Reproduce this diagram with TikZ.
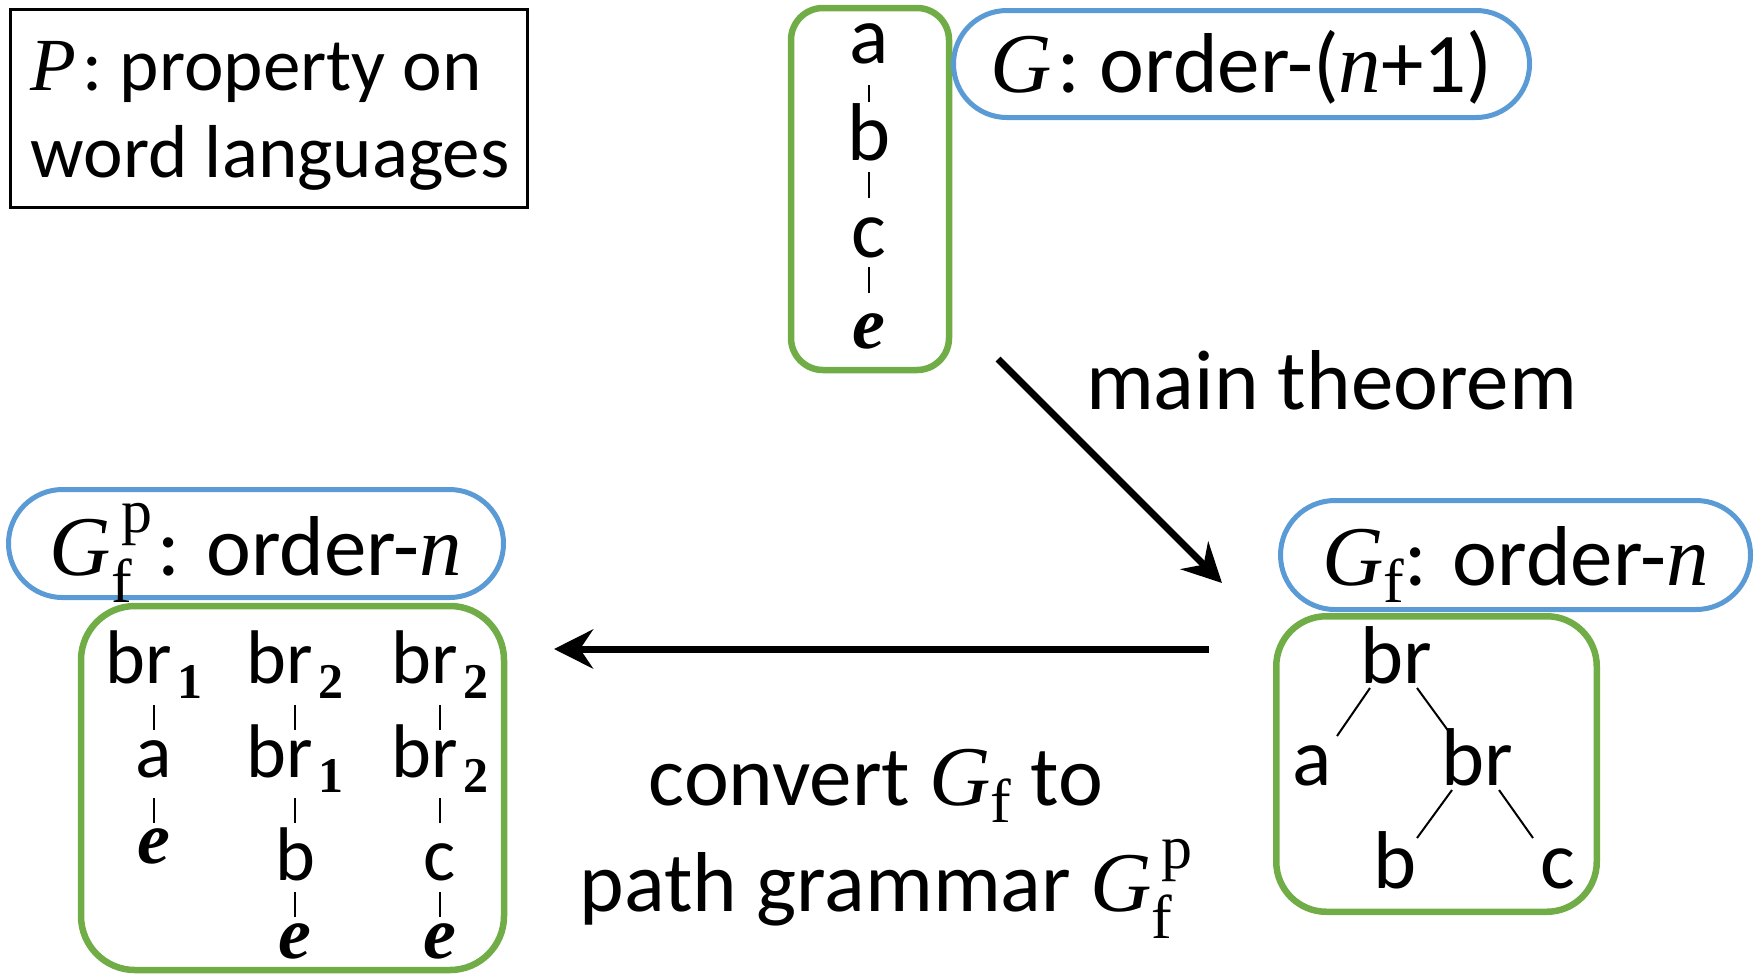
\documentclass[tikz,border=0pt]{standalone}
\usepackage{fontspec}
\setmainfont{Carlito}
\newfontfamily\serifmath{Liberation Serif}
\usetikzlibrary{arrows.meta,calc}

\definecolor{gboxc}{HTML}{70AD47}
\definecolor{bboxc}{HTML}{5B9BD5}

% italic variable, bold italic e, and sized upright serif scripts
\newcommand\mvar[1]{{\serifmath\itshape #1}}
\newcommand\bolde{{\serifmath\fontsize{37}{37}\selectfont\bfseries\itshape e}}
\newcommand\scr[2]{{\serifmath\fontsize{#1}{#1}\selectfont #2}}
\newcommand\Gsub{\mvar{G}\raisebox{-8.5pt}{\scr{31}{f}}}
\newcommand\Gsubsup{\mvar{G}\rlap{\hspace{5pt}\raisebox{21.5pt}{\scr{31}{p}}}\raisebox{-13.5pt}{\scr{31}{f}}\hspace{11pt}}
\newcommand\brsub[1]{br\hspace{3pt}\raisebox{-7.5pt}{{\serifmath\fontsize{25}{25}\selectfont\bfseries #1}}}

\begin{document}
\begin{tikzpicture}[x=0.5pt,y=-0.5pt,
  every node/.style={inner sep=0pt, outer sep=0pt, font=\fontsize{42.5}{49}\selectfont},
  greenbox/.style={draw=gboxc, line width=3.25pt},
  bluebox/.style={draw=bboxc, line width=2.5pt},
  lt/.style={anchor=base, text height=20pt, text depth=0pt},
  small/.style={font=\fontsize{38}{43.5}\selectfont},
  tick/.style={line width=1pt},
  branch/.style={line width=1pt},
  bigarrow/.style={line width=3.5pt, -{Stealth[length=19.5pt,width=19.5pt,inset=6.5pt]}}]
\useasboundingbox (0,0) rectangle (1759,976);

% property box
\node[draw, line width=1.4pt, minimum width=258.6pt, minimum height=99pt] (propbox) at (269,108.5) {};
\node[font=\fontsize{37.5}{43.5}\selectfont, anchor=base west, align=left] (prop) at (31,177) {\mvar{P}\hspace{3pt}: property on\\word languages};

% grammar G and its word a b c e
\node[greenbox, rounded corners=16pt, minimum width=79pt, minimum height=181pt] (gword) at (870,189) {};
\node[bluebox, rounded corners=26.7pt, minimum width=288pt, minimum height=53.5pt,
      text height=34pt, text depth=6pt] (gbox) at (1241.5,64) {\mvar{G}\hspace{3pt}: order-(\mvar{n}+1)};
\node[lt, font=\fontsize{41}{49}\selectfont] (wa) at (869,63) {a};
\node[lt, font=\fontsize{41}{49}\selectfont] (wb) at (869,160) {b};
\node[lt, font=\fontsize{41}{49}\selectfont] (wc) at (869,257) {c};
\node[lt] (we) at (869,348) {\bolde};
\draw[tick, shorten <=11pt, shorten >=9pt] (wa.south) -- (wb.north);
\draw[tick, shorten <=6pt, shorten >=9.5pt] (wb.south) -- (wc.north);
\draw[tick, shorten <=5pt, shorten >=7.5pt] (wc.south) -- (we.north);

% main theorem arrow
\coordinate (mtA) at (998,359);
\coordinate (mtB) at (1222,583);
\draw[bigarrow] (mtA) -- (mtB);
\node[anchor=base west] (mt) at (1086,409) {main theorem};

% grammar G_f and its tree
\node[greenbox, rounded corners=25pt, minimum width=160.25pt, minimum height=147.75pt] (gftree) at (1436.5,764) {};
\node[bluebox, rounded corners=27.2pt, minimum width=235pt, minimum height=54.5pt,
      text height=36pt, text depth=6pt] (gfbox) at (1515.5,555) {\Gsub: order-\mvar{n}};
\node[lt, font=\fontsize{41}{49}\selectfont] (t1) at (1396,683) {br};
\node[lt, font=\fontsize{41}{49}\selectfont] (ta) at (1312,785) {a};
\node[lt, font=\fontsize{41}{49}\selectfont] (t2) at (1477,785) {br};
\node[lt, font=\fontsize{41}{49}\selectfont] (tb) at (1395,888) {b};
\node[lt, font=\fontsize{41}{49}\selectfont] (tc) at (1558,888) {c};
\draw[branch] ($(t1.base)+(-26,5)$) -- ($(ta.base)+(25,-49)$);
\draw[branch] ($(t1.base)+(21,5)$) -- ($(t2.base)+(-25,-49)$);
\draw[branch] ($(t2.base)+(-25,5)$) -- ($(tb.base)+(22,-50)$);
\draw[branch] ($(t2.base)+(22,5)$) -- ($(tc.base)+(-25,-50)$);

% conversion arrow
\coordinate (cvA) at (1209,649);
\coordinate (cvB) at (554,649);
\draw[bigarrow] (cvA) -- (cvB);
\node[align=center, anchor=base] (cv) at (876,911) {convert \Gsub{} to\\[4pt]path grammar \Gsubsup};

% path grammar G_f^p and its paths
\node[greenbox, rounded corners=27pt, minimum width=211.5pt, minimum height=182pt] (gpaths) at (292.5,788) {};
\node[bluebox, rounded corners=27pt, minimum width=247.5pt, minimum height=54pt,
      text height=37.5pt, text depth=6pt] (gpbox) at (256,543.5) {\Gsubsup\hspace{2pt}: order-\mvar{n}};

\node[lt, small] (p1r) at (154,683) {\brsub{1}};
\node[lt, small] (p1a) at (154,777) {a};
\node[lt] (p1e) at (154,863) {\bolde};
\draw[tick, shorten <=11pt, shorten >=3.5pt] (p1r.south) -- (p1a.north);
\draw[tick, shorten <=10.5pt, shorten >=0pt] (p1a.south) -- (p1e.north);

\node[lt, small] (p2r) at (295,683) {\brsub{2}};
\node[lt, small] (p2s) at (295,777) {\brsub{1}};
\node[lt, small] (p2b) at (295,880) {b};
\node[lt] (p2e) at (295,958) {\bolde};
\draw[tick, shorten <=11pt, shorten >=3.5pt] (p2r.south) -- (p2s.north);
\draw[tick, shorten <=10.5pt, shorten >=8.5pt] (p2s.south) -- (p2b.north);
\draw[tick, shorten <=6pt, shorten >=0.5pt] (p2b.south) -- (p2e.north);

\node[lt, small] (p3r) at (440,683) {\brsub{2}};
\node[lt, small] (p3s) at (440,777) {\brsub{2}};
\node[lt, small] (p3c) at (440,880) {c};
\node[lt] (p3e) at (440,958) {\bolde};
\draw[tick, shorten <=11pt, shorten >=3.5pt] (p3r.south) -- (p3s.north);
\draw[tick, shorten <=10.5pt, shorten >=8.5pt] (p3s.south) -- (p3c.north);
\draw[tick, shorten <=6pt, shorten >=0.5pt] (p3c.south) -- (p3e.north);
\end{tikzpicture}
\end{document}
